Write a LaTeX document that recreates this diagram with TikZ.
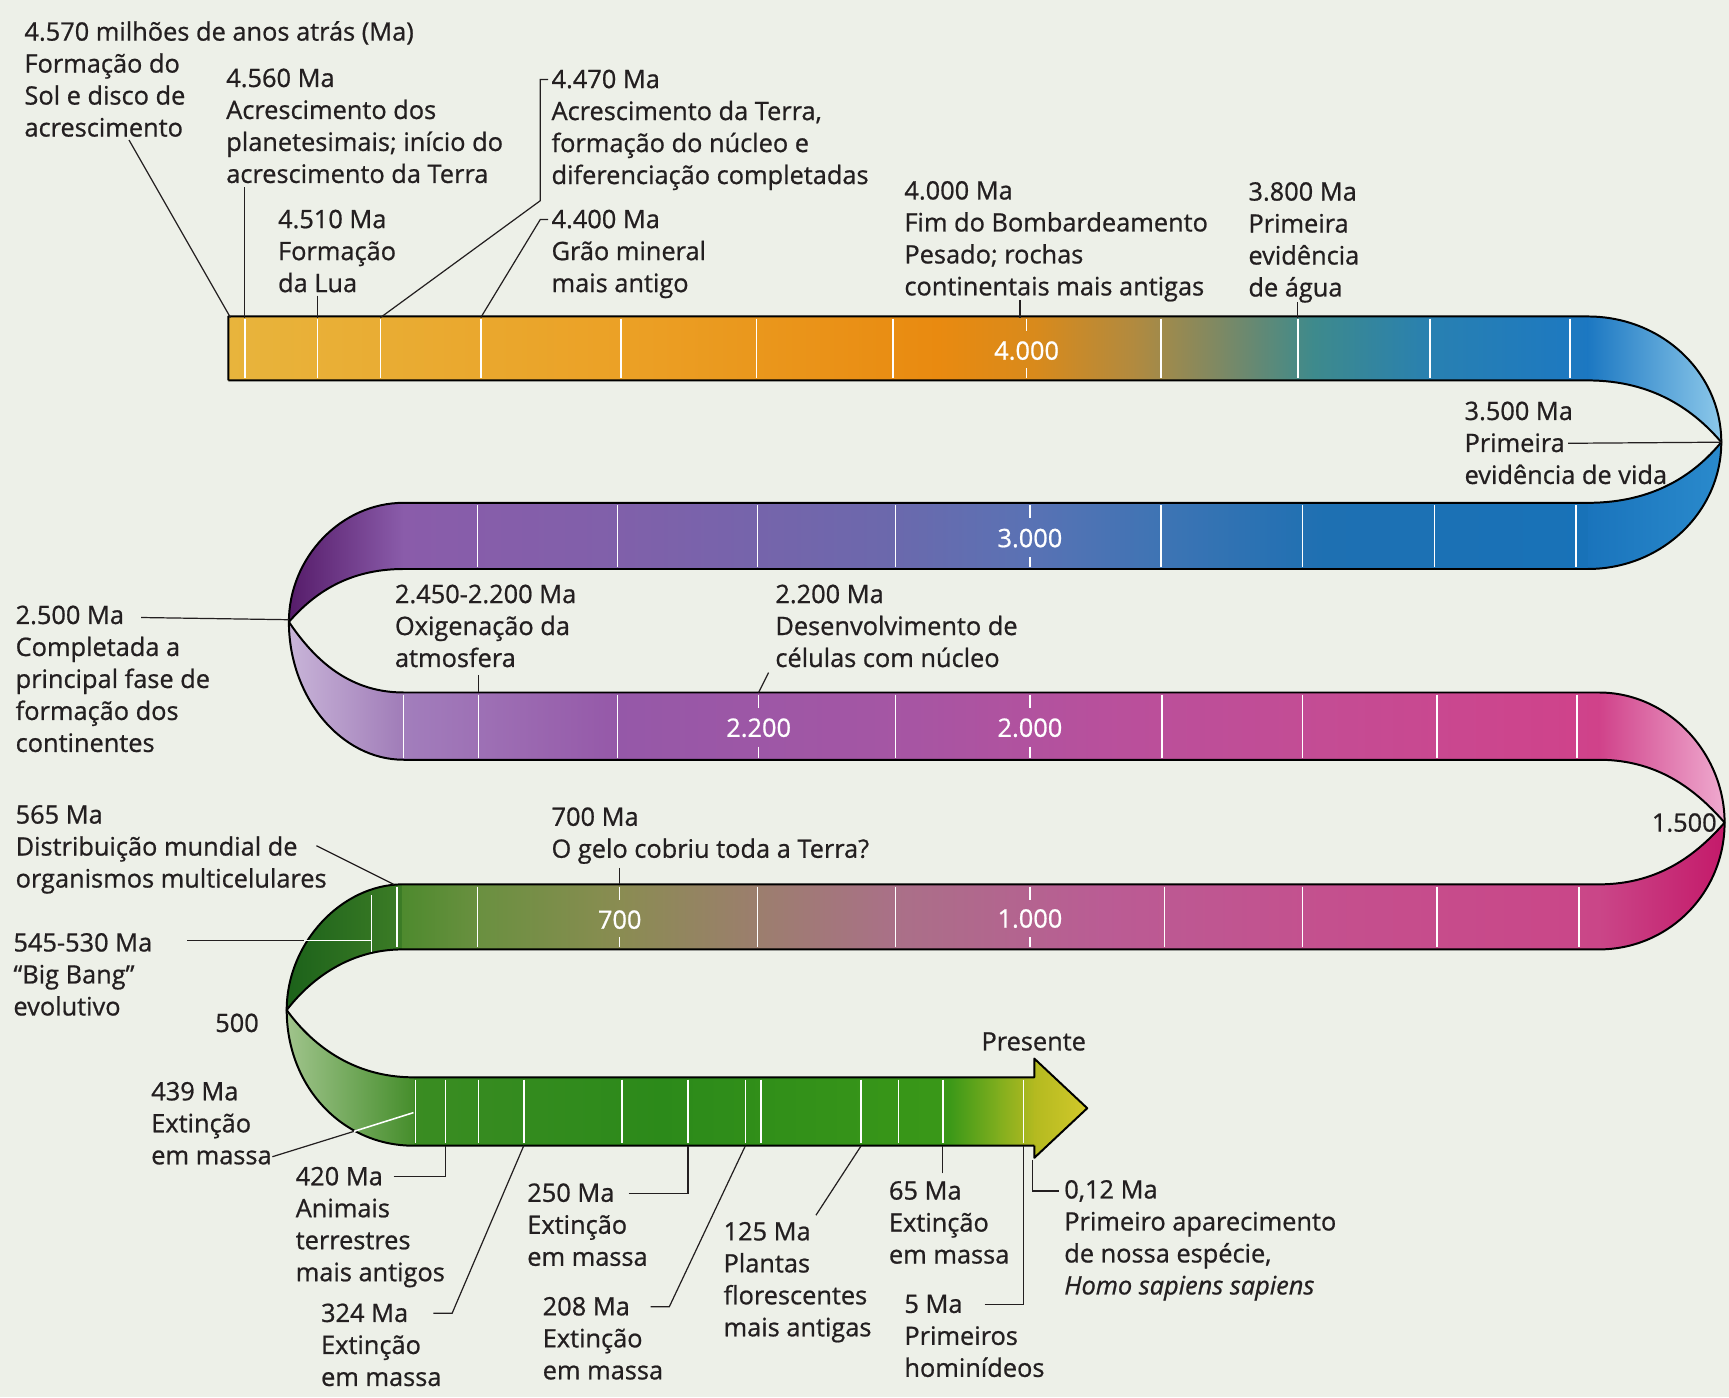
\documentclass[tikz,border=0pt]{standalone}
\usepackage{fontspec}
\setmainfont{Open Sans}[UprightFeatures={FakeBold=0.8}, ItalicFeatures={FakeBold=0.8}]
\usetikzlibrary{positioning}

\definecolor{bg}{HTML}{EDF0E8}
\definecolor{ink}{HTML}{231F20}
% row 1 (yellow to blue)
\definecolor{ra1}{HTML}{E8B43C}
\definecolor{ra2}{HTML}{EBA126}
\definecolor{ra3}{HTML}{E98A10}
\definecolor{ra4}{HTML}{D88A1C}
\definecolor{ra5}{HTML}{B08A40}
\definecolor{ra6}{HTML}{7A8966}
\definecolor{ra7}{HTML}{3E8A8C}
\definecolor{ra8}{HTML}{2880B2}
\definecolor{ra9}{HTML}{1C78C2}
% row 2 (blue to purple)
\definecolor{rb1}{HTML}{8A5CAA}
\definecolor{rb2}{HTML}{8060AA}
\definecolor{rb3}{HTML}{6C68AC}
\definecolor{rb4}{HTML}{5A72B4}
\definecolor{rb5}{HTML}{3C74B4}
\definecolor{rb6}{HTML}{1E70B2}
\definecolor{rb7}{HTML}{1872B8}
% row 3 (purple to magenta)
\definecolor{rc1}{HTML}{A27EBC}
\definecolor{rc2}{HTML}{9558A8}
\definecolor{rc3}{HTML}{A456A4}
\definecolor{rc4}{HTML}{B8509C}
\definecolor{rc5}{HTML}{C44C94}
\definecolor{rc6}{HTML}{D0428A}
% row 4 (magenta to green)
\definecolor{rd1}{HTML}{4E8A2E}
\definecolor{rd2}{HTML}{6A9040}
\definecolor{rd3}{HTML}{8A8C52}
\definecolor{rd4}{HTML}{9C7E6E}
\definecolor{rd5}{HTML}{AA7088}
\definecolor{rd6}{HTML}{BA5C94}
\definecolor{rd7}{HTML}{C4508E}
\definecolor{rd8}{HTML}{CA4688}
% row 5 (green to yellow)
\definecolor{re1}{HTML}{3A8C22}
\definecolor{re2}{HTML}{2C8A1A}
\definecolor{re3}{HTML}{3A9818}
\definecolor{re4}{HTML}{80AE1E}
\definecolor{re5}{HTML}{B4BA20}
\definecolor{re6}{HTML}{D2C82A}
% turns
\definecolor{ta1}{HTML}{8CC8EA}
\definecolor{ta2}{HTML}{1A74BC}
\definecolor{ta3}{HTML}{2A8ACC}
\definecolor{tb1}{HTML}{561C6A}
\definecolor{tb2}{HTML}{C8B4D8}
\definecolor{tb3}{HTML}{A07CB8}
\definecolor{tc1}{HTML}{EFAACF}
\definecolor{tc2}{HTML}{C41A6A}
\definecolor{td1}{HTML}{1C621A}
\definecolor{td2}{HTML}{3C7C26}
\definecolor{td3}{HTML}{A0C48C}
\definecolor{td4}{HTML}{468E2C}

\begin{document}
\begin{tikzpicture}[
  x=1pt, y=-1pt,
  txt/.style={font=\fontsize{23}{29}\selectfont, text=ink, align=left, anchor=north west, inner sep=0pt},
  num/.style={font=\fontsize{23}{29}\selectfont, text=white, inner sep=0pt},
  rim/.style={draw=black, line width=1.8pt, line join=round},
  divider/.style={draw=white, line width=1.4pt},
  conn/.style={draw=ink, line width=1.1pt}
]

  \useasboundingbox (0,0) rectangle (1568,1267);
  \fill[bg] (0,0) rectangle (1568,1267);

  % Straight parts of the ribbon
  \foreach \xa/\ca/\xb/\cb in {207/ra1/560/ra2, 560/ra2/850/ra3, 850/ra3/940/ra4, 940/ra4/1030/ra5,
      1030/ra5/1110/ra6, 1110/ra6/1190/ra7, 1190/ra7/1300/ra8, 1300/ra8/1440/ra9}
    \shade[left color=\ca, right color=\cb] (\xa,287) rectangle (\xb+1,345);
  \foreach \xa/\ca/\xb/\cb in {366/rb1/560/rb2, 560/rb2/800/rb3, 800/rb3/930/rb4, 930/rb4/1060/rb5,
      1060/rb5/1200/rb6, 1200/rb6/1440/rb7}
    \shade[left color=\ca, right color=\cb] (\xa,456) rectangle (\xb+1,516);
  \foreach \xa/\ca/\xb/\cb in {366/rc1/560/rc2, 560/rc2/800/rc3, 800/rc3/1000/rc4, 1000/rc4/1200/rc5,
      1200/rc5/1450/rc6}
    \shade[left color=\ca, right color=\cb] (\xa,628) rectangle (\xb+1,689);
  \foreach \xa/\ca/\xb/\cb in {365/rd1/434/rd2, 434/rd2/562/rd3, 562/rd3/688/rd4, 688/rd4/812/rd5,
      812/rd5/1000/rd6, 1000/rd6/1200/rd7, 1200/rd7/1450/rd8}
    \shade[left color=\ca, right color=\cb] (\xa,802) rectangle (\xb+1,861);
  \foreach \xa/\ca/\xb/\cb in {375/re1/600/re2, 600/re2/860/re3, 860/re3/905/re4, 905/re4/938/re5}
    \shade[left color=\ca, right color=\cb] (\xa,977) rectangle (\xb+1,1039);
  \shade[left color=re5, right color=re6] (938,960) -- (986,1005) -- (938,1050) -- cycle;

  % Turns
  \shade[left color=ra9, right color=ta1] (1440,287) .. controls (1507,287) and (1561,338) .. (1561,401)
    .. controls (1537,373) and (1500,345) .. (1440,345) -- cycle;
  \shade[left color=ta2, right color=ta3] (1561,401) .. controls (1561,464) and (1507,516) .. (1440,516)
    -- (1440,456) .. controls (1500,456) and (1537,430) .. (1561,401) -- cycle;
  \shade[left color=tb1, right color=rb1] (366,456) .. controls (309,456) and (262,506) .. (262,564)
    .. controls (283,540) and (314,516) .. (366,516) -- cycle;
  \shade[left color=tb2, right color=tb3] (262,564) .. controls (262,632) and (309,689) .. (366,689)
    -- (366,628) .. controls (314,628) and (283,595) .. (262,564) -- cycle;
  \shade[left color=rc6, right color=tc1] (1450,628) .. controls (1513,628) and (1564,683) .. (1564,746)
    .. controls (1541,720) and (1507,689) .. (1450,689) -- cycle;
  \shade[left color=rd8, right color=tc2] (1564,746) .. controls (1564,810) and (1513,861) .. (1450,861)
    -- (1450,802) .. controls (1507,802) and (1541,772) .. (1564,746) -- cycle;
  \shade[left color=td1, right color=td2] (365,802) .. controls (310,802) and (260,855) .. (260,916)
    .. controls (280,890) and (315,861) .. (365,861) -- cycle;
  \shade[left color=td3, right color=td4] (260,916) .. controls (260,985) and (310,1039) .. (375,1039)
    -- (375,977) .. controls (318,977) and (281,945) .. (260,916) -- cycle;

  % Dividers
  \foreach \x in {222,288,345,436,563,686,810,1053,1177,1297,1424}
    \draw[divider] (\x,289) -- (\x,343);
  \foreach \x in {433,560,687,812,1053,1181,1301,1429}
    \draw[divider] (\x,458) -- (\x,514);
  \foreach \x in {366,434,560,812,1054,1181,1303,1430}
    \draw[divider] (\x,630) -- (\x,687);
  \foreach \x in {360,433,687,812,1056,1181,1303,1432}
    \draw[divider] (\x,804) -- (\x,859);
  \draw[divider] (337,812) -- (337,864);
  \foreach \x in {377,404,434,475,564,624,676,690,781,815,855,928}
    \draw[divider] (\x,979) -- (\x,1037);
  \foreach \x/\ya/\yb in {931/289/300, 931/334/343, 934/458/470, 934/505/514, 688/630/642, 688/677/687,
      934/630/642, 934/677/687, 562/804/816, 562/850/859, 934/804/816, 934/850/859}
    \draw[divider] (\x,\ya) -- (\x,\yb);

  % Edges of the ribbon
  \draw[rim] (207,345) -- (207,287) -- (1440,287) .. controls (1507,287) and (1561,338) .. (1561,401)
    .. controls (1561,464) and (1507,516) .. (1440,516) -- (366,516)
    .. controls (314,516) and (283,540) .. (262,564) .. controls (283,595) and (314,628) .. (366,628)
    -- (1450,628) .. controls (1513,628) and (1564,683) .. (1564,746)
    .. controls (1564,810) and (1513,861) .. (1450,861) -- (365,861)
    .. controls (315,861) and (280,890) .. (260,916) .. controls (281,945) and (318,977) .. (375,977)
    -- (938,977) -- (938,960) -- (986,1005) -- (938,1050) -- (938,1039);
  \draw[rim] (207,345) -- (1440,345) .. controls (1500,345) and (1537,373) .. (1561,401)
    .. controls (1537,430) and (1500,456) .. (1440,456) -- (366,456)
    .. controls (309,456) and (262,506) .. (262,564) .. controls (262,632) and (309,689) .. (366,689)
    -- (1450,689) .. controls (1507,689) and (1541,720) .. (1564,746)
    .. controls (1541,772) and (1507,802) .. (1450,802) -- (365,802)
    .. controls (310,802) and (260,855) .. (260,916) .. controls (260,985) and (310,1039) .. (375,1039)
    -- (938,1039);

  % Numbers on the ribbon
  \node[num] (n4000) at (931,318) {4.000};
  \node[num] (n3000) at (934,488) {3.000};
  \node[num] (n2200) at (688,660) {2.200};
  \node[num] (n2000) at (934,660) {2.000};
  \node[num] (n700) at (562,834) {700};
  \node[num] (n1000) at (934,833) {1.000};

  % Folds and points on the ribbon
  \coordinate (f12) at (1561,401);
  \coordinate (f23) at (262,562);
  \coordinate (f34) at (1564,746);
  \coordinate (f45) at (260,916);
  \coordinate (b4570) at (209,288);
  \coordinate (b4560) at (222,288);
  \coordinate (b4510) at (288,288);
  \coordinate (b4470) at (345,288);
  \coordinate (b4400) at (436,288);
  \coordinate (b4000) at (925,288);
  \coordinate (b3800) at (1177,288);
  \coordinate (b2450) at (434,628);
  \coordinate (b2200) at (688,628);
  \coordinate (b565) at (357,802);
  \coordinate (b700) at (562,802);
  \coordinate (c545) at (276,853);
  \coordinate (b545) at (337,853);
  \coordinate (c439) at (321,1026);
  \coordinate (b439) at (375,1009);
  \coordinate (b420) at (404,1039);
  \coordinate (b324) at (475,1039);
  \coordinate (b250) at (624,1039);
  \coordinate (b208) at (676,1039);
  \coordinate (b125) at (781,1039);
  \coordinate (b65) at (855,1039);
  \coordinate (b5) at (928,1039);
  \coordinate (b012) at (936,1052);

  % Events
  \node[txt] (l4570) at (22,19) {4.570 milhões de anos atrás (Ma)\\Formação do\\Sol e disco de\\acrescimento};
  \node[txt] (l4560) at (205,62) {4.560 Ma\\Acrescimento dos\\planetesimais; início do\\acrescimento da Terra};
  \node[txt] (l4510) at (252,190) {4.510 Ma\\Formação\\da Lua};
  \node[txt] (l4470) at (500,63) {4.470 Ma\\Acrescimento da Terra,\\formação do núcleo e\\diferenciação completadas};
  \node[txt] (l4400) at (500,190) {4.400 Ma\\Grão mineral\\mais antigo};
  \node[txt] (l4000) at (820,164) {4.000 Ma\\Fim do Bombardeamento\\Pesado; rochas\\continentais mais antigas};
  \node[txt] (l3800) at (1132,165) {3.800 Ma\\Primeira\\evidência\\de água};
  \node[txt] (l3500) at (1328,364) {3.500 Ma\\Primeira\\evidência de vida};
  \node[txt] (l2500) at (14,549) {2.500 Ma\\Completada a\\principal fase de\\formação dos\\continentes};
  \node[txt] (l2450) at (358,530) {2.450-2.200 Ma\\Oxigenação da\\atmosfera};
  \node[txt] (l2200) at (703,530) {2.200 Ma\\Desenvolvimento de\\células com núcleo};
  \node[txt] (l565) at (14,730) {565 Ma\\Distribuição mundial de\\organismos multicelulares};
  \node[txt] (l700) at (500,732) {700 Ma\\O gelo cobriu toda a Terra?};
  \node[txt, left=7pt of f34] (n1500) {1.500};
  \node[txt] (l545) at (12,846) {545-530 Ma\\“Big Bang”\\evolutivo};
  \node[txt] (n500) at (195,919) {500};
  \node[txt] (l439) at (137,981) {439 Ma\\Extinção\\em massa};
  \node[txt, anchor=south east] (npres) at (985,953) {Presente};
  \node[txt] (l420) at (268,1058) {420 Ma\\Animais\\terrestres\\mais antigos};
  \node[txt] (l250) at (478,1073) {250 Ma\\Extinção\\em massa};
  \node[txt] (l125) at (656,1108) {125 Ma\\Plantas\\florescentes\\mais antigas};
  \node[txt] (l65) at (806,1071) {65 Ma\\Extinção\\em massa};
  \node[txt] (l012) at (965,1070) {0,12 Ma\\Primeiro aparecimento\\de nossa espécie,\\\textit{Homo sapiens sapiens}};
  \node[txt] (l324) at (291,1182) {324 Ma\\Extinção\\em massa};
  \node[txt] (l208) at (492,1176) {208 Ma\\Extinção\\em massa};
  \node[txt] (l5) at (820,1174) {5 Ma\\Primeiros\\hominídeos};

  % Leader lines
  \draw[conn] ([shift={(95,108)}]l4570.north west) -- (b4570);
  \draw[conn] ([shift={(17,108)}]l4560.north west) -- (b4560);
  \draw[conn] ([shift={(36,78)}]l4510.north west) -- (b4510);
  \draw[conn] ([shift={(-3,9)}]l4470.north west) -- ++(-7,0) -- ++(0,110) -- (b4470);
  \draw[conn] ([shift={(-3,9)}]l4400.north west) -- ++(-7,0) -- (b4400);
  \draw[conn] ([shift={(105,108)}]l4000.north west) -- (b4000);
  \draw[conn] ([shift={(45,109)}]l3800.north west) -- (b3800);
  \draw[conn] ([shift={(94,38)}]l3500.north west) -- (f12);
  \draw[conn] ([shift={(114,11)}]l2500.north west) -- (f23);
  \draw[conn] ([shift={(76,82)}]l2450.north west) -- (b2450);
  \draw[conn] ([shift={(-6,80)}]l2200.north west) -- (b2200);
  \draw[conn] ([shift={(273,37)}]l565.north west) -- (b565);
  \draw[conn] ([shift={(62,55)}]l700.north west) -- (b700);
  \draw[conn] ([shift={(158,7)}]l545.north west) -- (c545);
  \draw[divider] (c545) -- (b545);
  \draw[conn] ([shift={(110,68)}]l439.north west) -- (c439);
  \draw[divider] (c439) -- (b439);
  \draw[conn] ([shift={(89,9)}]l420.north west) -- ++(47,0) -- (b420);
  \draw[conn] ([shift={(102,9)}]l324.north west) -- ++(17,0) -- (b324);
  \draw[conn] ([shift={(92,9)}]l250.north west) -- ++(54,0) -- (b250);
  \draw[conn] ([shift={(98,9)}]l208.north west) -- ++(17,0) -- (b208);
  \draw[conn] ([shift={(84,-6)}]l125.north west) -- (b125);
  \draw[conn] ([shift={(49,-7)}]l65.north west) -- (b65);
  \draw[conn] ([shift={(73,9)}]l5.north west) -- ++(35,0) -- (b5);
  \draw[conn] ([shift={(-5,10)}]l012.north west) -- ++(-24,0) -- (b012);

\end{tikzpicture}
\end{document}
